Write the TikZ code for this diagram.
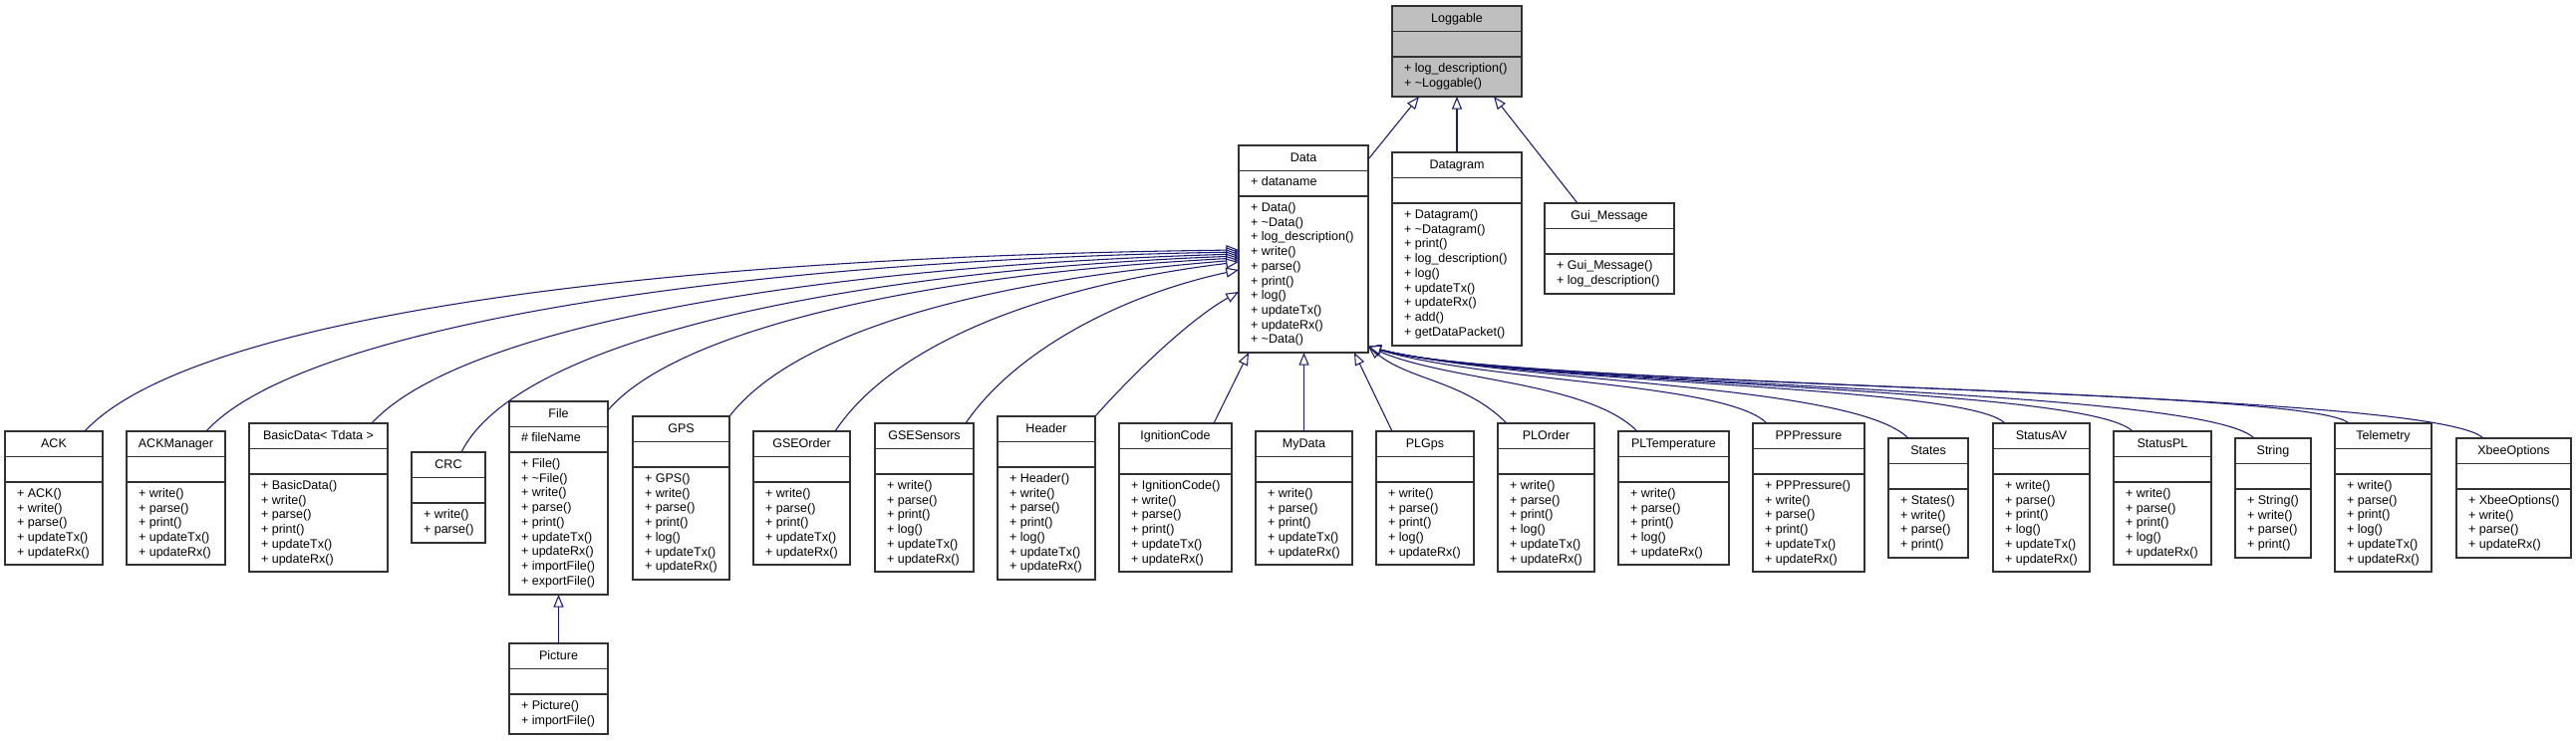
\documentclass[tikz,border=0pt]{standalone}
\usepackage{fontspec}
\setmainfont{Liberation Sans}
\usetikzlibrary{arrows.meta,fit,calc}
\definecolor{edgeblue}{RGB}{25,25,112}
\definecolor{boxline}{RGB}{50,50,50}
\definecolor{loggray}{RGB}{191,191,191}
\tikzset{
  classbox/.style={draw=boxline, line width=1pt, fill=white, inner sep=0pt, outer sep=0pt},
  divider/.style={draw=boxline, line width=1pt},
  lbl/.style={font=\fontsize{9.4}{11}\selectfont, inner sep=0pt, outer sep=0pt, text=black},
  inh/.style={draw=edgeblue, line width=0.8pt, -{Triangle[length=9.5pt, width=7.5pt, fill=white]}},
}
% #1 style, #2 name, #3 x1, #4 y1, #5 x2, #6 y2, #7 title, #8 attribute, #9 methods
\newcommand\umlclass[9][]{%
  \node[classbox,#1, fit={(#3,#4) (#5,#6)}] (#2) {};
  \draw[divider] (#3,#4+25.5) -- (#5,#4+25.5);
  \draw[divider] (#3,#4+51) -- (#5,#4+51);
  \node[lbl, anchor=base] (#2-t) at ({(#3+#5)/2},#4+16) {#7};
  \node[lbl, anchor=base west] (#2-a) at (#3+12,#4+40.5) {#8};
  \foreach \m [count=\i] in {#9} {\node[lbl, anchor=base west] (#2-m\i) at (#3+12,{#4+66.5+(\i-1)*14.7}) {\m};}
}
\newcommand\tl{\textasciitilde}
\begin{document}
\begin{tikzpicture}[x=0.75pt,y=-0.75pt]
\useasboundingbox[fill=white] (0,0) rectangle (2585,743);

\umlclass[fill=loggray]{Loggable}{1397}{6}{1527}{97}{Loggable}{}{+ log\_description(), + \tl Loggable()}
\umlclass{Data}{1243}{146}{1373}{354}{Data}{+ dataname}{+ Data(), + \tl Data(), + log\_description(), + write(), + parse(), + print(), + log(), + updateTx(), + updateRx(), + \tl Data()}
\umlclass{Datagram}{1397}{153}{1527}{347}{Datagram}{}{+ Datagram(), + \tl Datagram(), + print(), + log\_description(), + log(), + updateTx(), + updateRx(), + add(), + getDataPacket()}
\umlclass{GuiMessage}{1550}{204}{1680}{295}{Gui\_Message}{}{+ Gui\_Message(), + log\_description()}

\umlclass{ACK}{5}{433}{103}{567}{ACK}{}{+ ACK(), + write(), + parse(), + updateTx(), + updateRx()}
\umlclass{ACKManager}{127}{433}{226}{567}{ACKManager}{}{+ write(), + parse(), + print(), + updateTx(), + updateRx()}
\umlclass{BasicData}{250}{425}{389}{574}{BasicData< Tdata >}{}{+ BasicData(), + write(), + parse(), + print(), + updateTx(), + updateRx()}
\umlclass{CRC}{413}{454}{487}{545}{CRC}{}{+ write(), + parse()}
\umlclass{File}{511}{403}{610}{597}{File}{\# fileName}{+ File(), + \tl File(), + write(), + parse(), + print(), + updateTx(), + updateRx(), + importFile(), + exportFile()}
\umlclass{Picture}{511}{646}{610}{737}{Picture}{}{+ Picture(), + importFile()}
\umlclass{GPS}{635}{418}{732}{582}{GPS}{}{+ GPS(), + write(), + parse(), + print(), + log(), + updateTx(), + updateRx()}
\umlclass{GSEOrder}{756}{433}{853}{567}{GSEOrder}{}{+ write(), + parse(), + print(), + updateTx(), + updateRx()}
\umlclass{GSESensors}{878}{425}{977}{574}{GSESensors}{}{+ write(), + parse(), + print(), + log(), + updateTx(), + updateRx()}
\umlclass{Header}{1001}{418}{1099}{582}{Header}{}{+ Header(), + write(), + parse(), + print(), + log(), + updateTx(), + updateRx()}
\umlclass{IgnitionCode}{1123}{425}{1236}{574}{IgnitionCode}{}{+ IgnitionCode(), + write(), + parse(), + print(), + updateTx(), + updateRx()}
\umlclass{MyData}{1260}{433}{1357}{567}{MyData}{}{+ write(), + parse(), + print(), + updateTx(), + updateRx()}
\umlclass{PLGps}{1381}{433}{1479}{567}{PLGps}{}{+ write(), + parse(), + print(), + log(), + updateRx()}
\umlclass{PLOrder}{1503}{425}{1600}{574}{PLOrder}{}{+ write(), + parse(), + print(), + log(), + updateTx(), + updateRx()}
\umlclass{PLTemperature}{1624}{433}{1735}{567}{PLTemperature}{}{+ write(), + parse(), + print(), + log(), + updateRx()}
\umlclass{PPPressure}{1759}{425}{1871}{574}{PPPressure}{}{+ PPPressure(), + write(), + parse(), + print(), + updateTx(), + updateRx()}
\umlclass{States}{1895}{440}{1975}{560}{States}{}{+ States(), + write(), + parse(), + print()}
\umlclass{StatusAV}{2000}{425}{2097}{574}{StatusAV}{}{+ write(), + parse(), + print(), + log(), + updateTx(), + updateRx()}
\umlclass{StatusPL}{2121}{433}{2219}{567}{StatusPL}{}{+ write(), + parse(), + print(), + log(), + updateRx()}
\umlclass{String}{2243}{440}{2319}{560}{String}{}{+ String(), + write(), + parse(), + print()}
\umlclass{Telemetry}{2343}{425}{2440}{574}{Telemetry}{}{+ write(), + parse(), + print(), + log(), + updateTx(), + updateRx()}
\umlclass{XbeeOptions}{2465}{440}{2580}{560}{XbeeOptions}{}{+ XbeeOptions(), + write(), + parse(), + updateRx()}

% edges to Loggable
\draw[inh] ($(Data.north east)+(0,14)$) -- ($(Loggable.south west)+(27,0)$);
\draw[inh] (Datagram.north) -- (Loggable.south);
\draw[inh] ($(GuiMessage.north west)+(33,0)$) -- ($(Loggable.south west)+(102,0)$);
% File -> Picture
\draw[inh] (Picture.north) -- (File.south);

% left curves to Data
\draw[inh] ($(ACK.north west)+(80,0)$) .. controls (190,320) and (640,258) .. ($(Data.north west)+(0,105)$);
\draw[inh] ($(ACKManager.north west)+(80,0)$) .. controls (300,330) and (720,262) .. ($(Data.north west)+(0,107)$);
\draw[inh] ($(BasicData.north west)+(123,0)$) .. controls (460,330) and (800,268) .. ($(Data.north west)+(0,109)$);
\draw[inh] ($(CRC.north west)+(50,0)$) .. controls (520,340) and (850,272) .. ($(Data.north west)+(0,111)$);
\draw[inh] ($(File.north east)+(0,9)$) .. controls (680,330) and (930,275) .. ($(Data.north west)+(0,113)$);
\draw[inh] (GPS.north east) .. controls (800,330) and (1000,280) .. ($(Data.north west)+(0,115)$);
\draw[inh] ($(GSEOrder.north west)+(82,0)$) .. controls (900,340) and (1060,285) .. ($(Data.north west)+(0,117)$);
\draw[inh] ($(GSESensors.north west)+(91,0)$) .. controls (1020,350) and (1130,295) .. ($(Data.north west)+(0,125)$);
\draw[inh] (Header.north east) .. controls (1140,372) and (1195,320) .. ($(Data.north west)+(0,147)$);
% straight edges to Data bottom
\draw[inh] ($(IgnitionCode.north west)+(95,0)$) -- ($(Data.south west)+(10,0)$);
\draw[inh] (MyData.north) -- (MyData.north |- Data.south);
\draw[inh] ($(PLGps.north west)+(16,0)$) -- ($(Data.south west)+(116,0)$);
% right curves to Data
\draw[inh] ($(PLOrder.north west)+(9,0)$) .. controls (1469,382) and (1415,382) .. ($(Data.south east)+(0,-6)$);
\draw[inh] ($(PLTemperature.north west)+(19,0)$) .. controls (1593,383) and (1454,383) .. ($(Data.south east)+(0,-6)$);
\draw[inh] ($(PPPressure.north west)+(14,0)$) .. controls (1732,384) and (1493,384) .. ($(Data.south east)+(0,-6)$);
\draw[inh] ($(States.north west)+(20,0)$) .. controls (1860,385) and (1523,385) .. ($(Data.south east)+(0,-6)$);
\draw[inh] ($(StatusAV.north west)+(12,0)$) .. controls (1973,386) and (1523,386) .. ($(Data.south east)+(0,-6)$);
\draw[inh] ($(StatusPL.north west)+(19,0)$) .. controls (2094,387) and (1523,387) .. ($(Data.south east)+(0,-6)$);
\draw[inh] ($(String.north west)+(19,0)$) .. controls (2210,388) and (1523,388) .. ($(Data.south east)+(0,-6)$);
\draw[inh] ($(Telemetry.north west)+(14,0)$) .. controls (2321,389) and (1523,389) .. ($(Data.south east)+(0,-6)$);
\draw[inh] ($(XbeeOptions.north west)+(27,0)$) .. controls (2442,390) and (1523,390) .. ($(Data.south east)+(0,-6)$);
\end{tikzpicture}
\end{document}
